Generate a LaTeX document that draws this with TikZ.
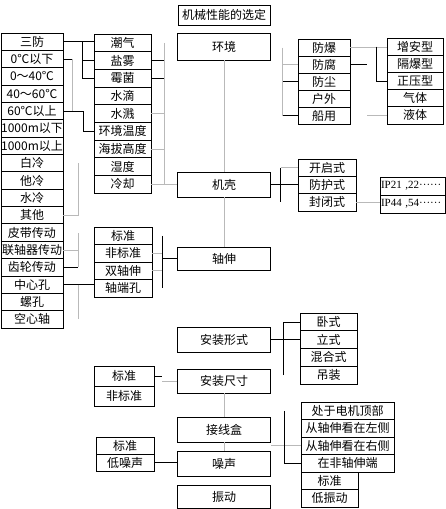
\documentclass[tikz,border=0pt]{standalone}
\usepackage{fontspec}
\setmainfont{Liberation Serif}
\newfontfamily\cjk{Noto Sans CJK SC}
\usetikzlibrary{calc}

\begin{document}
\begin{tikzpicture}[
  x=1pt, y=-1pt,
  cell/.style={draw, line width=0.8pt, inner sep=0pt,
               font=\cjk\fontsize{12}{12}\selectfont},
  main/.style={cell, minimum width=93pt},
  blk/.style={draw, line width=0.7pt},
  gry/.style={draw, line width=0.7pt, gray!55},
]
  \useasboundingbox (0,0) rectangle (446,509);

  % Main column
  \node[main, minimum width=92pt, minimum height=20pt] (title) at (224,15) {机械性能的选定};
  \node[main, minimum height=27pt] (env) at (224,46.5) {环境};
  \node[main, minimum height=25pt] (housing) at (224,184.5) {机壳};
  \node[main, minimum height=23pt] (shaft) at (224,258.5) {轴伸};
  \node[main, minimum height=25pt] (mountform) at (224,339.5) {安装形式};
  \node[main, minimum height=24pt] (mountsize) at (224,381) {安装尺寸};
  \node[main, minimum height=25pt] (termbox) at (224,429.5) {接线盒};
  \node[main, minimum height=25pt] (noise) at (224,463.5) {噪声};
  \node[main, minimum height=23pt] (vibration) at (224,496.5) {振动};

  % Left lists
  \foreach \txt [count=\i] in {三防, 0℃以下, 0～40℃, 40～60℃, 60℃以上, 1000m以下,
      1000m以上, 白冷, 他冷, 水冷, 其他, 皮带传动, 联轴器传动, 齿轮传动, 中心孔, 螺孔, 空心轴}
    \node[cell, minimum width=62pt, minimum height=17.35pt] (L\i) at (32,{33+17.35*(\i-0.5)}) {\txt};
  \foreach \txt [count=\i] in {潮气, 盐雾, 霉菌, 水滴, 水溅, 环境温度, 海拔高度, 湿度, 冷却}
    \node[cell, minimum width=57pt, minimum height=17.67pt] (E\i) at (122.5,{34+17.67*(\i-0.5)}) {\txt};
  \foreach \txt [count=\i] in {标准, 非标准, 双轴伸, 轴端孔}
    \node[cell, minimum width=58pt, minimum height=17.5pt] (S\i) at (123,{227+17.5*(\i-0.5)}) {\txt};
  \foreach \txt [count=\i] in {标准, 非标准}
    \node[cell, minimum width=60pt, minimum height=20pt] (Z\i) at (124,{366+20*(\i-0.5)}) {\txt};
  \foreach \txt [count=\i] in {标准, 低噪声}
    \node[cell, minimum width=58pt, minimum height=17pt] (N\i) at (125,{437+17*(\i-0.5)}) {\txt};

  % Right lists
  \foreach \txt [count=\i] in {防爆, 防腐, 防尘, 户外, 船用}
    \node[cell, minimum width=52pt, minimum height=17pt] (P\i) at (324,{39+17*(\i-0.5)}) {\txt};
  \foreach \txt [count=\i] in {增安型, 隔爆型, 正压型, 气体, 液体}
    \node[cell, minimum width=56pt, minimum height=17.2pt] (T\i) at (415,{38+17.2*(\i-0.5)}) {\txt};
  \foreach \txt [count=\i] in {开启式, 防护式, 封闭式}
    \node[cell, minimum width=58pt, minimum height=17.33pt] (H\i) at (327,{159+17.33*(\i-0.5)}) {\txt};
  \foreach \txt [count=\i] in {{IP21 ,22······}, {IP44 ,54······}}
    \node[cell, font=\fontsize{11}{11}\selectfont, text width=63pt, align=left,
          minimum width=65pt, minimum height=18pt] (IP\i) at (412.5,{177+18*(\i-0.5)}) {\txt};
  \foreach \txt [count=\i] in {卧式, 立式, 混合式, 吊装}
    \node[cell, minimum width=57pt, minimum height=17.75pt] (M\i) at (328.5,{313+17.75*(\i-0.5)}) {\txt};
  \foreach \txt [count=\i] in {处于电机顶部, 从轴伸看在左侧, 从轴伸看在右侧, 在非轴伸端}
    \node[cell, minimum width=93pt, minimum height=17.5pt] (J\i) at (347.5,{402+17.5*(\i-0.5)}) {\txt};
  \foreach \txt [count=\i] in {标准, 低振动}
    \node[cell, minimum width=57pt, minimum height=17.5pt] (V\i) at (329.5,{472+17.5*(\i-0.5)}) {\txt};

  % Spine
  \draw[gry] (env) -- (housing);
  \draw[gry] (housing) -- (shaft);
  \draw[gry] (mountsize) -- (termbox);
  \draw[gry] (termbox) -- (noise);

  % Left lists -> environment items
  \draw[blk] (L1.east) -- (L1.east -| E1.west);
  \coordinate (ja) at ([xshift=-11pt]L1.east -| E1.west);
  \draw[blk] (ja) |- (E3.west);
  \draw[blk] (ja |- E2.west) -- (E2.west);
  \draw[blk] (L2.east) -- ++(9,0) coordinate (jb);
  \draw[gry] (jb) -- (jb |- L5.east);
  \draw[blk] (L5.east) -- ++(20,0) |- (E6.west);
  \draw[gry] (L11.east) -- ++(15,0) coordinate (jc) -- (jc |- L8.east);
  \draw[blk] (L14.east) -- ++(15,0) coordinate (jd);
  \draw[gry] (jd) -- (jd |- L12.east);
  \draw[gry] (L13.east) -- (L13.east -| jd);
  \draw[blk] (L15.east) -- (L15.east -| S4.west);
  \draw[gry] (L15.east -| jd) -- (jd |- L17.east);

  % Environment items -> housing
  \draw[blk] (E2.east) -- ++(13,0);
  \draw[blk] (E3.east) -- ++(13,0);
  \draw[gry] (E5.east) -- ++(13,0);
  \draw[gry] (E7.east) -- ++(13,0);
  \draw[gry] ([xshift=13pt]E1.east) -- ([xshift=13pt]E9.east);
  \draw[gry] (E9.east) -- (E9.east -| housing.west);

  % Protection
  \draw[gry] ([xshift=-15pt]P1.west) -- ([xshift=-15pt]P5.west);
  \draw[gry] (P2.west) -- ++(-15,0);
  \draw[blk] (P3.west) -- ++(-15,0);
  \draw[blk] (P5.west) -- ++(-15,0);
  \draw[gry] (P1.east) -- (P1.east -| T1.west);
  \draw[blk] (P2.east) -- ++(17,0);
  \draw[blk] ([xshift=-10pt]T1.west) |- (T3.west);
  \draw[gry] (T5.west) -- ++(-20,0);

  % Housing
  \draw[blk] (housing.east) -- (housing.east -| H2.west);
  \draw[blk] ([xshift=-17pt]H1.west) -- ([xshift=-17pt]H3.west);
  \draw[gry] (H1.west) -- ++(-17,0);
  \draw[gry] (H3.east) -- (H3.east -| IP2.west);

  % Shaft
  \draw[blk] (shaft.west) -- ++(-15,0);
  \draw[blk] ([xshift=10pt]S1.east) -- ([xshift=10pt]S4.east);
  \draw[gry] (S2.east) -- ++(10,0);
  \draw[gry] (S3.east) -- ++(10,0);

  % Mounting
  \draw[blk] (mountform.east) -- (mountform.east -| M2.west);
  \draw[blk] ([xshift=-16pt]M4.west) |- (M1.west);
  \draw[blk] (Z1.east) -- ++(8,0);
  \draw[gry] (mountsize.west) -- ++(-15,0);

  % Terminal box, noise
  \draw[gry] (J3.west) -- (J3.west -| termbox.east);
  \draw[blk] ([xshift=-16pt]J1.west) |- (J4.west);
  \draw[blk] (N2.east) -- (N2.east -| noise.west);
\end{tikzpicture}
\end{document}
